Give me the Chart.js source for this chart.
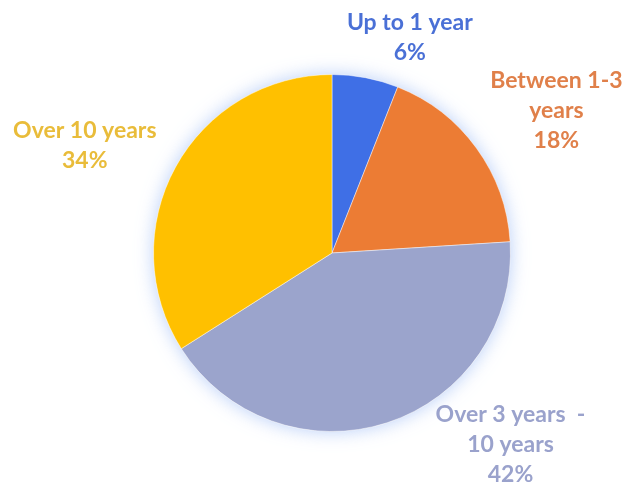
<!DOCTYPE html>
<html>
<head>
<meta charset="utf-8">
<script src="https://cdn.jsdelivr.net/npm/chart.js@4"></script>
<style>
  html, body { margin: 0; padding: 0; background: #fff; }
  #wrap { width: 634px; height: 487px; }
</style>
</head>
<body>
<div id="wrap"><canvas id="tenure"></canvas></div>
<script>
// categories, in clockwise order from the top
const categories = ['Up to 1 year', 'Between 1-3 years', 'Over 3 years - 10 years', 'Over 10 years']
// how each category label is broken into lines
const labelLines = [
  ['Up to 1 year'],
  ['Between 1-3', 'years'],
  ['Over 3 years  -', '10 years'],
  ['Over 10 years']
]
const shares = [6, 18, 42, 34]
const sliceColors = ['#3F6FE6', '#EC7C34', '#9BA4CC', '#FFC000']
const textColors = ['#4A70D6', '#E0804A', '#9AA2CC', '#E9BC3A']

// label block centres, in units of the pie radius from the pie centre
const labelAnchor = [[0.436, -1.207], [1.257, -0.799], [1.0, 1.073], [-1.385, -0.603]]

const pieGlow = {
  id: 'pieGlow',
  beforeDatasetsDraw(chart) {
    const arc = chart.getDatasetMeta(0).data[0]
    if (!arc) return
    const ctx = chart.ctx
    ctx.save()
    ctx.shadowColor = 'rgba(160,190,245,0.75)'
    ctx.shadowBlur = 18
    ctx.fillStyle = '#fff'
    ctx.beginPath()
    ctx.arc(arc.x, arc.y, arc.outerRadius, 0, Math.PI * 2)
    ctx.fill()
    ctx.restore()
  }
}

const sliceLabels = {
  id: 'sliceLabels',
  afterDatasetsDraw(chart) {
    const arc = chart.getDatasetMeta(0).data[0]
    if (!arc) return
    const ctx = chart.ctx
    const r = arc.outerRadius
    const lineH = 30
    ctx.save()
    ctx.font = 'bold 23px Lato'
    ctx.textAlign = 'center'
    ctx.textBaseline = 'middle'
    shares.forEach((v, i) => {
      const lines = labelLines[i].concat([v + '%'])
      const cx = arc.x + labelAnchor[i][0] * r
      const cy = arc.y + labelAnchor[i][1] * r
      const top = cy - (lines.length - 1) * lineH / 2
      ctx.fillStyle = textColors[i]
      lines.forEach((t, k) => ctx.fillText(t, cx, top + k * lineH))
    })
    ctx.restore()
  }
}

new Chart(
  document.getElementById('tenure'),
  {
    type: 'pie',
    data: {
      labels: categories,
      datasets: [
        {
          data: shares,
          backgroundColor: sliceColors,
          borderColor: 'rgba(255,255,255,0.45)',
          borderWidth: 1
        }
      ]
    },
    options: {
      responsive: true,
      maintainAspectRatio: false,
      animation: false,
      plugins: {
        legend: { display: false },
        tooltip: { enabled: false }
      },
      layout: {
        padding: { left: 153, right: 123, top: 74, bottom: 55 }
      }
    },
    plugins: [pieGlow, sliceLabels]
  }
)
</script>
</body>
</html>
